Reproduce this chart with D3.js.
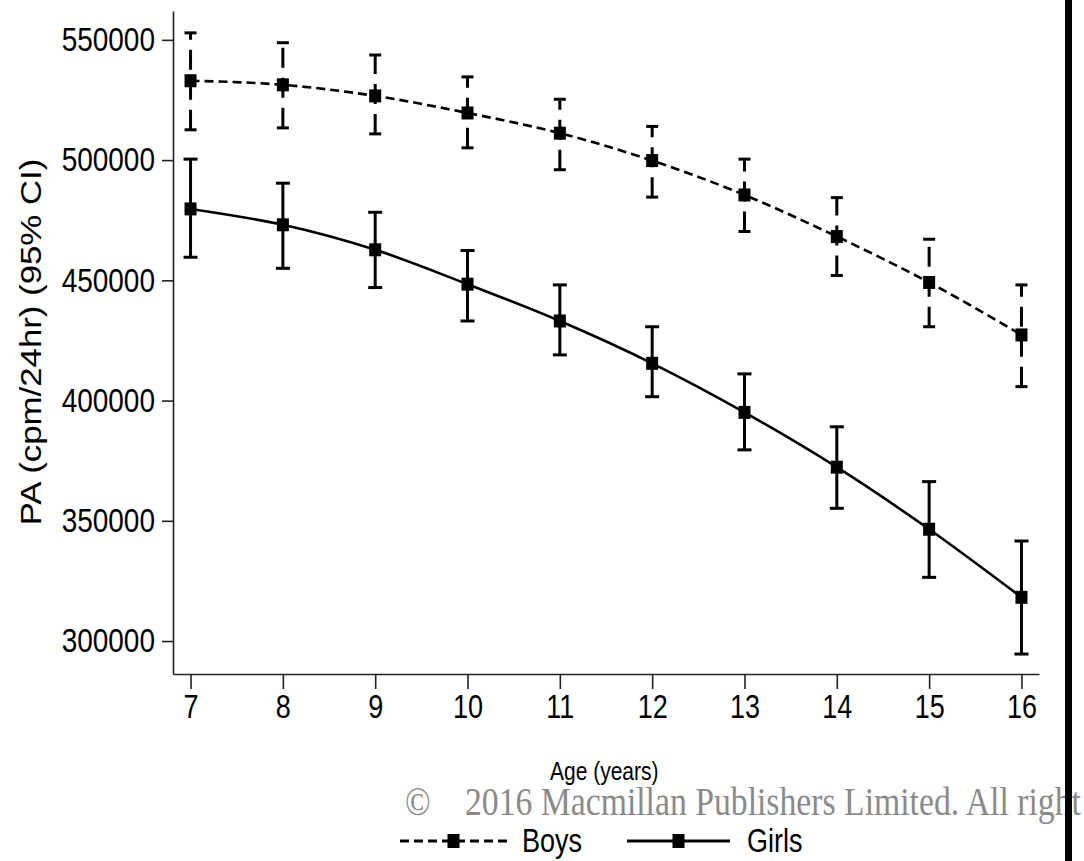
<!DOCTYPE html>
<html>
<head>
<meta charset="utf-8">
<script src="https://cdn.jsdelivr.net/npm/d3@7"></script>
<style>
  body { margin: 0; background: white; }
</style>
</head>
<body>
<div id="canvas"></div>
<script>
"use strict"

// CANVAS SIZE AND PLOT BOX

let svgWidth = 1084;
let svgHeight = 861;

let plotLeft = 173;
let plotRight = 1039;
let plotTop = 11;
let plotBottom = 674;

let stretch = 1.2; // the source picture is stretched vertically, its text too

let sansFont = "'Liberation Sans', Arial, sans-serif";
let serifFont = "'Liberation Serif', 'Times New Roman', serif";


// DATA (cpm/24hr, 95% CI)

let ages = [7, 8, 9, 10, 11, 12, 13, 14, 15, 16];

let boysMean = [533000, 531300, 526700, 519600, 511200, 499800, 485500, 468200, 449100, 427300];
let boysLower = [512600, 513400, 510900, 505100, 496000, 484600, 470300, 452000, 430700, 405800];
let boysUpper = [552900, 548800, 543700, 534600, 525300, 514000, 500400, 484400, 467100, 448100];

let girlsMean = [479700, 473100, 462700, 448400, 433100, 415500, 395100, 372300, 346500, 318200];
let girlsLower = [459600, 455000, 447000, 433100, 419000, 401600, 379500, 355200, 326500, 294600];
let girlsUpper = [500400, 490400, 478300, 462400, 448100, 430700, 411100, 389100, 366300, 341600];

let yTicks = [300000, 350000, 400000, 450000, 500000, 550000];

let seriesNames = ["Boys", "Girls"];


// CANVAS SETUP

let svg = d3.select("#canvas")
    .append("svg")
    .attr("width", svgWidth)
    .attr("height", svgHeight);

svg.append("rect")
    .attr("width", svgWidth)
    .attr("height", svgHeight)
    .attr("fill", "white");


// SCALES

let xScale = d3.scaleLinear()
    .domain([6.81, 16.19])
    .range([plotLeft, plotRight]);

let yScale = d3.scaleLinear()
    .domain([286300, 562000])
    .range([plotBottom, plotTop]);


// AXES - d3.axis sets its own font attrs on call, so they are overridden after

let xAxis = svg.append("g")
    .attr("transform", "translate(0," + plotBottom + ")")
    .call(d3.axisBottom(xScale)
        .tickValues(ages)
        .tickFormat(d3.format("d"))
        .tickSize(15)
        .tickSizeOuter(0))
    .attr("font-family", sansFont)
    .attr("font-size", 27);

xAxis.selectAll("text")
    .attr("fill", "black")
    .attr("dy", null)
    .attr("y", 37)
    .attr("transform", "scale(1," + stretch + ")");

let yAxis = svg.append("g")
    .attr("transform", "translate(" + plotLeft + ",0)")
    .call(d3.axisLeft(yScale)
        .tickValues(yTicks)
        .tickFormat(d3.format("d"))
        .tickSize(11)
        .tickPadding(7)
        .tickSizeOuter(0))
    .attr("font-family", sansFont)
    .attr("font-size", 28);

yAxis.selectAll("text")
    .attr("fill", "black")
    .attr("transform", "scale(1," + stretch + ")");

svg.selectAll(".domain, .tick line")
    .attr("stroke", "#222")
    .attr("stroke-width", 1.6);


// BUILDING PLOTTABLE SERIES

function makeSeries(means, lowers, uppers) {
    return ages.map(function (age, i) {
        return {
            age: age,
            mean: means[i],
            lower: lowers[i],
            upper: uppers[i]
        }
    });
}

let series = [
    { name: "Boys", points: makeSeries(boysMean, boysLower, boysUpper), dash: "9 5", barDash: "20 10", cap: 12 },
    { name: "Girls", points: makeSeries(girlsMean, girlsLower, girlsUpper), dash: null, barDash: null, cap: 14 }
];


// FITTED LINES

let line = d3.line()
    .curve(d3.curveMonotoneX)
    .x(function (value) {
        return xScale(value.age);
    })
    .y(function (value) {
        return yScale(value.mean);
    });

svg.selectAll(".fit-line")
    .data(series)
    .join("path")
    .attr("class", "fit-line")
    .attr("fill", "none")
    .attr("stroke", "black")
    .attr("stroke-width", 2.6)
    .attr("stroke-dasharray", function (value) {
        return value.dash;
    })
    .attr("d", function (value) {
        return line(value.points);
    });


// ERROR BARS AND MARKERS

series.forEach(function (s) {
    let g = svg.append("g").attr("class", "series-" + s.name);

    // vertical bars, drawn bottom to top so the dash pattern starts at the low end
    g.selectAll(".ci")
        .data(s.points)
        .join("path")
        .attr("class", "ci")
        .attr("fill", "none")
        .attr("stroke", "black")
        .attr("stroke-width", 3)
        .attr("stroke-dasharray", s.barDash)
        .attr("d", function (value) {
            return "M" + xScale(value.age) + "," + yScale(value.lower) + "V" + yScale(value.upper);
        });

    // caps
    ["lower", "upper"].forEach(function (end) {
        g.selectAll(".cap-" + end)
            .data(s.points)
            .join("line")
            .attr("class", "cap-" + end)
            .attr("x1", function (value) { return xScale(value.age) - s.cap / 2; })
            .attr("x2", function (value) { return xScale(value.age) + s.cap / 2; })
            .attr("y1", function (value) { return yScale(value[end]); })
            .attr("y2", function (value) { return yScale(value[end]); })
            .attr("stroke", "black")
            .attr("stroke-width", 3);
    });

    // square markers
    g.selectAll(".marker")
        .data(s.points)
        .join("rect")
        .attr("class", "marker")
        .attr("x", function (value) { return xScale(value.age) - 6; })
        .attr("y", function (value) { return yScale(value.mean) - 6.5; })
        .attr("width", 12)
        .attr("height", 13)
        .attr("fill", "black");
});


// AXIS TITLES

svg.append("text")
    .attr("transform", "translate(41,342) scale(1," + stretch + ") rotate(-90)")
    .attr("text-anchor", "middle")
    .attr("font-family", sansFont)
    .attr("font-size", 29)
    .attr("fill", "black")
    .text("PA (cpm/24hr) (95% CI)");

svg.append("text")
    .attr("transform", "translate(550,780) scale(1," + stretch + ")")
    .attr("font-family", sansFont)
    .attr("font-size", 21)
    .attr("fill", "black")
    .text("Age (years)");


// COPYRIGHT STAMP

svg.append("text")
    .attr("transform", "translate(405,815) scale(1," + stretch + ")")
    .attr("font-family", serifFont)
    .attr("font-size", 33.7)
    .attr("fill", "#8a8a8a")
    .text("©");

svg.append("text")
    .attr("transform", "translate(465,815) scale(1," + stretch + ")")
    .attr("font-family", serifFont)
    .attr("font-size", 33.7)
    .attr("fill", "#8a8a8a")
    .text("2016 Macmillan Publishers Limited. All right");


// LEGEND

let legendY = 841;
let legendItems = [
    { name: seriesNames[0], x1: 400, x2: 507, textX: 522, dash: "9 5" },
    { name: seriesNames[1], x1: 627, x2: 730, textX: 747, dash: null }
];

legendItems.forEach(function (item) {
    svg.append("line")
        .attr("x1", item.x1)
        .attr("x2", item.x2)
        .attr("y1", legendY)
        .attr("y2", legendY)
        .attr("stroke", "black")
        .attr("stroke-width", 3)
        .attr("stroke-dasharray", item.dash);

    svg.append("rect")
        .attr("x", (item.x1 + item.x2) / 2 - 6)
        .attr("y", legendY - 7)
        .attr("width", 12)
        .attr("height", 14)
        .attr("fill", "black");

    svg.append("text")
        .attr("transform", "translate(" + item.textX + "," + (legendY + 11) + ") scale(1," + stretch + ")")
        .attr("font-family", sansFont)
        .attr("font-size", 27)
        .attr("fill", "black")
        .text(item.name);
});


// RIGHT EDGE BAR

svg.append("rect")
    .attr("x", 1065)
    .attr("y", 0)
    .attr("width", 7)
    .attr("height", svgHeight)
    .attr("fill", "black");
</script>
</body>
</html>
